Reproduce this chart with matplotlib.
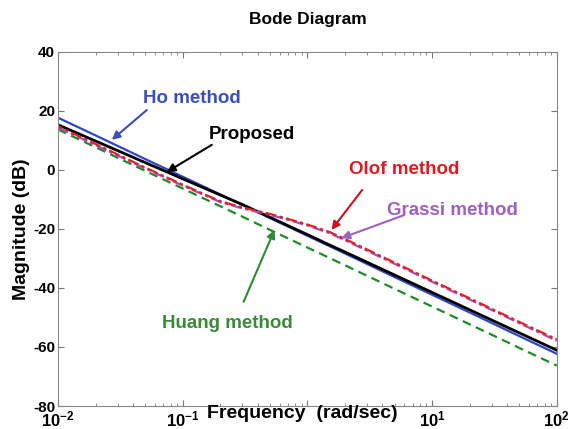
import matplotlib
matplotlib.use("Agg")
import matplotlib.pyplot as plt
from matplotlib.ticker import FixedLocator, FixedFormatter, LogLocator, NullFormatter

# frecuencias (rad/s) donde se leen las curvas
freq = [0.01, 0.02, 0.05, 0.1, 0.2, 0.3, 0.5, 0.7, 1, 1.5, 2, 5, 10, 20, 50, 100]

# magnitud en dB de cada metodo
ho_db = [17.7, 11.7, 3.7, -2.3, -8.3, -11.8, -16.3, -19.2, -22.3, -25.8, -28.3, -36.3, -42.3, -48.3, -56.3, -62.3]
proposed_db = [15.3, 9.8, 2.5, -3.0, -8.5, -11.7, -16.0, -18.9, -21.9, -25.4, -27.8, -35.6, -41.5, -47.4, -55.2, -61.1]
olof_db = [14.8, 8.8, 0.8, -5.0, -10.6, -12.7, -14.9, -16.6, -18.5, -21.0, -23.4, -31.4, -37.5, -43.5, -51.5, -57.4]
grassi_db = [14.4, 8.4, 0.5, -5.3, -10.9, -13.0, -15.2, -16.9, -18.8, -21.4, -23.8, -31.8, -37.9, -43.9, -51.9, -57.9]
huang_db = [13.7, 7.7, -0.3, -6.3, -12.3, -15.8, -20.3, -23.2, -26.3, -29.8, -32.3, -40.3, -46.3, -52.3, -60.3, -66.3]

xticks = [0.01, 0.1, 1, 10, 100]
xtick_labels = [r"$\mathbf{10^{-2}}$", r"$\mathbf{10^{-1}}$", "", r"$\mathbf{10^{1}}$", r"$\mathbf{10^{2}}$"]
yticks = [-80, -60, -40, -20, 0, 20, 40]

plt.rcParams['font.family'] = ['Liberation Sans', 'DejaVu Sans']
plt.rcParams['mathtext.fontset'] = 'custom'
plt.rcParams['mathtext.bf'] = 'Liberation Sans:bold'
plt.rcParams['mathtext.rm'] = 'Liberation Sans'

fig = plt.figure(figsize=(5.7, 4.29), dpi=100)
ax = fig.add_axes([0.1018, 0.0536, 0.875, 0.8254])

ax.plot(freq, huang_db, color='#1f8a2a', lw=1.6, ls=(0, (4, 2.5)))
ax.plot(freq, ho_db, color='#2f46c4', lw=1.6)
ax.plot(freq, proposed_db, color='black', lw=2.0)
ax.plot(freq, grassi_db, color='#a050c0', lw=1.6, ls=(0, (5, 1.5, 1.5, 1.5)))
ax.plot(freq, olof_db, color='#e0202a', lw=1.6, ls=(3, (5, 1.5, 1.5, 1.5)))

ax.set_xscale('log')
ax.set_xlim(0.01, 100)
ax.set_ylim(-80, 40)
ax.xaxis.set_major_locator(FixedLocator(xticks))
ax.xaxis.set_major_formatter(FixedFormatter(xtick_labels))
ax.xaxis.set_minor_locator(LogLocator(base=10, subs=range(2, 10)))
ax.xaxis.set_minor_formatter(NullFormatter())
ax.set_yticks(yticks)
ax.set_yticklabels([str(v) for v in yticks], fontweight='bold')

ax.tick_params(which='both', direction='in', top=True, right=True, colors='#777777', labelcolor='black')
ax.tick_params(which='major', length=4, labelsize=11, pad=2)
ax.tick_params(axis='x', which='major', pad=2.5, labelsize=12)
ax.tick_params(which='minor', length=2.5)
for s in ax.spines.values():
    s.set_color('#888888')

ax.set_title('Bode Diagram', fontsize=12.5, fontweight='bold', pad=20)
ax.set_ylabel('Magnitude (dB)', fontsize=14, fontweight='bold', labelpad=2)
ax.text(0.49, -0.02, 'Frequency  (rad/sec)', transform=ax.transAxes, ha='center', va='center',
        fontsize=14, fontweight='bold')

afont = dict(fontsize=13.5, fontweight='bold', ha='center', va='center')

def note(txt, pos, start, tip, col, tcol=None):
    ax.annotate('', xy=tip, xytext=start,
                arrowprops=dict(arrowstyle='-|>', color=col, lw=1.5, mutation_scale=12, shrinkA=0, shrinkB=0))
    ax.text(pos[0], pos[1], txt, color=tcol or col, **afont)

note('Ho method', (0.118, 24.1), (0.0515, 20.3), (0.027, 10.2), '#3a4fb8')
note('Proposed', (0.356, 11.9), (0.171, 8.5), (0.0745, -0.7), 'black')
note('Olof method', (5.97, 0.0), (2.75, -6.8), (1.56, -20.3), '#c8141e', '#e01a24')
note('Grassi method', (14.5, -13.6), (5.97, -15.3), (1.87, -23.1), '#a060c0')
note('Huang method', (0.229, -51.9), (0.308, -44.7), (0.545, -20.3), '#2d8a35', '#3a8a3a')

fig.savefig('out.png', dpi=100)
